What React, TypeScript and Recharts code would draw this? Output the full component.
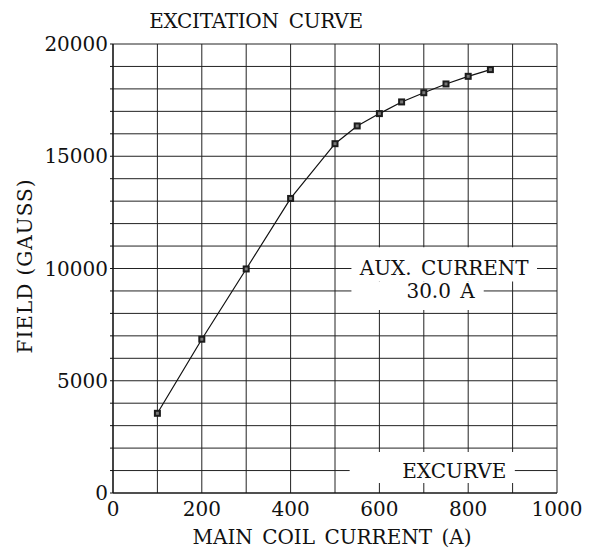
import React from 'react';
import { LineChart, Line, XAxis, YAxis, CartesianGrid, ReferenceArea, Label } from 'recharts';

const mainCurrent = [100, 200, 300, 400, 500, 550, 600, 650, 700, 750, 800, 850];
const fieldGauss = [3550, 6850, 9980, 13120, 15560, 16350, 16900, 17420, 17830, 18220, 18560, 18860];

const xTicks = [0, 100, 200, 300, 400, 500, 600, 700, 800, 900, 1000];
const yTicks = [
    0, 1000, 2000, 3000, 4000, 5000, 6000, 7000, 8000, 9000, 10000,
    11000, 12000, 13000, 14000, 15000, 16000, 17000, 18000, 19000, 20000
];

const chartData = mainCurrent.map((current, i) => ({ current, field: fieldGauss[i] }));

const font = '"DejaVu Serif", "Liberation Serif", serif';
const ink = '#111';
const noteStyle = { fontFamily: font, fontSize: 20, fill: ink, wordSpacing: 3 };

const SquareDot = (props: any) => {
    const { cx, cy, index } = props;
    if (cx == null || cy == null) return null;
    return (
        <g key={`dot-${index}`}>
            <rect x={cx - 3.5} y={cy - 3.5} width={7} height={7} fill="#1c1c1c" />
            <rect x={cx - 1.5} y={cy - 1.5} width={3} height={3} fill="#777" />
        </g>
    );
};

export default function App() {
    return (
        <div style={{ position: 'absolute', left: 0, top: 0, background: '#fff' }}>
            <LineChart
                width={593}
                height={548}
                data={chartData}
                margin={{ top: 44, right: 36, bottom: 25, left: 0 }}
            >
                <CartesianGrid stroke="#222" strokeWidth={1} />
                <XAxis
                    dataKey="current"
                    type="number"
                    domain={[0, 1000]}
                    ticks={xTicks}
                    interval={0}
                    height={30}
                    tickSize={0}
                    tickMargin={9}
                    tickFormatter={(v: number) => (v % 200 === 0 ? String(v) : '')}
                    axisLine={{ stroke: ink, strokeWidth: 1.2 }}
                    tick={{ fontFamily: font, fontSize: 20, fill: ink }}
                />
                <YAxis
                    type="number"
                    domain={[0, 20000]}
                    ticks={yTicks}
                    interval={0}
                    width={113}
                    tickSize={3}
                    tickMargin={2}
                    tickFormatter={(v: number) => (v % 5000 === 0 ? String(v) : '')}
                    axisLine={{ stroke: ink, strokeWidth: 1.2 }}
                    tickLine={{ stroke: ink }}
                    tick={{ fontFamily: font, fontSize: 20, fill: ink }}
                />
                <ReferenceArea x1={537} x2={955} y1={9420} y2={10950} fill="#fff" fillOpacity={1} stroke="none">
                    <Label value="AUX. CURRENT" position="center" dy={4} style={noteStyle} />
                </ReferenceArea>
                <ReferenceArea x1={537} x2={835} y1={8150} y2={9420} fill="#fff" fillOpacity={1} stroke="none">
                    <Label value="30.0 A" position="center" dx={23} dy={-5} style={noteStyle} />
                </ReferenceArea>
                <ReferenceArea x1={533} x2={905} y1={450} y2={1830} fill="#fff" fillOpacity={1} stroke="none">
                    <Label value="EXCURVE" position="center" dx={22} dy={3} style={noteStyle} />
                </ReferenceArea>
                <Line
                    type="linear"
                    dataKey="field"
                    stroke={ink}
                    strokeWidth={1.2}
                    dot={SquareDot}
                    activeDot={false}
                    isAnimationActive={false}
                />
                <text x={256} y={28} textAnchor="middle" fontFamily={font} fontSize={20} fill={ink} letterSpacing={-0.3} wordSpacing={4}>
                    EXCITATION CURVE
                </text>
                <text x={332} y={544} textAnchor="middle" fontFamily={font} fontSize={20} fill={ink} wordSpacing={3}>
                    MAIN COIL CURRENT (A)
                </text>
                <text
                    x={32}
                    y={266}
                    textAnchor="middle"
                    fontFamily={font}
                    fontSize={20}
                    fill={ink}
                    letterSpacing={1}
                    transform="rotate(-90 32 266)"
                >
                    FIELD (GAUSS)
                </text>
            </LineChart>
        </div>
    );
}
